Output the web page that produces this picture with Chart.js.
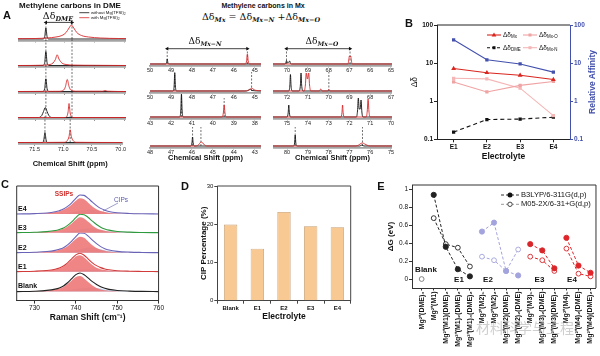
<!DOCTYPE html>
<html><head><meta charset="utf-8">
<script src="https://cdn.jsdelivr.net/npm/chart.js@4.4.0/dist/chart.umd.min.js"></script>
<style>
body{margin:0;background:#fff;width:600px;height:356px;position:relative;overflow:hidden;font-family:"Liberation Sans",Arial,sans-serif;}
.t{position:absolute;white-space:nowrap;color:#111;line-height:1;}
sub{font-size:68%;vertical-align:-0.3em;line-height:0;}
.m{font-family:"DejaVu Serif",serif;}
.m sub{font-style:italic;font-weight:bold;}
svg.o{position:absolute;left:0;top:0;}
</style></head><body>
<script>
// ---------------- DATA ----------------
// Panel A – DME methylene carbons (ppm, intensity) for 5 rows
const dmeTicks = [71.5, 71, 70.5, 70];
const dmeRefs = [71.32, 70.88];
const dmeWithout = [
 [[71.79,0],[71.37,0],[71.34,2.5],[71.32,11],[71.30,2.5],[71.27,0],[69.97,0]],
 [[71.79,0],[71.37,0],[71.34,3],[71.32,14],[71.30,3],[71.27,0],[69.97,0]],
 [[71.79,0],[71.37,0],[71.34,3],[71.32,12.7],[71.30,3],[71.27,0],[69.97,0]],
 [[71.79,0],[71.44,0],[71.39,2],[71.36,6],[71.33,10],[71.30,6],[71.27,2],[71.22,0],[69.97,0]],
 [[71.79,0],[71.36,0],[71.34,2.5],[71.32,10],[71.30,2.5],[71.28,0],[69.97,0]]
];
const dmeWith = [
 [[71.79,0.3],[71.5,0.5],[71.3,1],[71.15,2],[71.05,3.5],[70.98,6.5],[70.93,11],[70.89,14],[70.85,11],[70.8,6.5],[70.72,3.5],[70.6,2],[70.4,1],[70.1,0.5],[69.97,0.4]],
 [[71.79,0],[71.35,0.3],[71.25,1],[71.2,2.5],[71.16,6],[71.13,10.7],[71.1,6.5],[71.05,2.5],[70.98,1],[70.85,0.4],[70.5,0.2],[69.97,0]],
 [[71.79,0],[71.1,0.2],[71.02,1.5],[70.99,5],[70.96,12],[70.93,5],[70.9,1.5],[70.8,0.3],[70.36,0.3],[70.32,1],[70.28,0.3],[69.97,0]],
 [[71.79,0],[71.0,0],[70.96,2],[70.945,6],[70.93,14],[70.915,6],[70.9,2],[70.86,0],[69.97,0]],
 [[71.79,0],[70.98,0.2],[70.93,2],[70.9,6],[70.88,12.7],[70.86,6],[70.83,2],[70.78,0.2],[69.97,0]]
];
// Panel A – Mx-N rows
const mxnTicks = [[50,49,48,47,46,45],[50,49,48,47,46,45],[43,42,41,40,39,38],[48,47,46,45,44,43]];
const mxnRefs = [[49.18,45.35],[48.82,45.15],[41.5,39.46],[45.97,45.57]];
const mxnWithout = [
 [[50,0],[49.26,0],[49.21,1.5],[49.18,5],[49.15,1.5],[49.1,0],[44.7,0]],
 [[50,0],[48.9,0],[48.85,5],[48.82,18],[48.79,5],[48.74,0],[45.4,0],[45.28,1],[45.22,2],[45.14,0.5],[44.7,0]],
 [[43,0],[41.58,0],[41.53,7],[41.5,23],[41.47,7],[41.42,0],[37.7,0]],
 [[48,0],[46.05,0],[46.0,3],[45.97,9],[45.94,3],[45.89,0],[42.7,0]]
];
const mxnWith = [
 [[50,0],[45.44,0],[45.39,3],[45.35,10],[45.31,3],[45.26,0],[44.7,0]],
 [[50,0],[45.5,0],[45.3,0.8],[45.2,1.8],[45.15,3],[45.08,2],[44.95,0.6],[44.7,0.3]],
 [[43,0],[39.55,0],[39.5,4],[39.46,12],[39.42,4],[39.37,0],[37.7,0]],
 [[48,0],[45.8,0],[45.68,1.2],[45.6,3.5],[45.55,4],[45.48,3],[45.4,1],[45.3,0],[42.7,0]]
];
// Panel A – Mx-O rows
const mxoTicks = [[70,69,68,67,66,65],[72,71,70,69,68,67],[75,74,73,72,71,70],[80,79,78,77,76,75]];
const mxoRefs = [[70.03,66.97],[69.99],[],[79.61,76.37]];
const mxoWithout = [
 [[70.68,0],[70.1,0],[70.05,2],[70.03,3.5],[69.98,1],[69.92,2],[69.88,3],[69.84,0.5],[69.8,0],[64.95,0]],
 [[72.68,0],[71.92,0],[71.87,5],[71.84,16.5],[71.81,5],[71.76,0],[71.42,0],[71.36,6],[71.33,18],[71.3,6],[71.24,0],[66.95,0]],
 [[75.68,0],[75.0,0],[74.95,4],[74.92,12],[74.89,4],[74.84,0],[71.66,0],[71.61,6],[71.57,19],[71.53,8],[71.48,8],[71.44,17],[71.4,5],[71.35,0],[69.95,0]],
 [[80.68,0],[79.69,0],[79.64,3],[79.61,11],[79.58,3],[79.53,0],[76.5,0],[76.4,1],[76.3,0],[74.95,0]]
];
const mxoWith = [
 [[70.68,0],[67.07,0],[67.03,4],[67.0,8],[66.97,7],[66.94,8],[66.91,4],[66.87,0],[64.95,0]],
 [[72.68,0],[71.18,0],[71.12,6],[71.08,18],[71.02,12],[70.96,18],[70.92,6],[70.86,0],[70.45,0],[70.38,2],[70.31,0],[70.05,0],[69.99,1.5],[69.93,0],[66.95,0]],
 [[75.68,0],[72.41,0],[72.36,4],[72.33,12],[72.3,4],[72.25,0],[71.19,0],[71.14,6],[71.1,18],[71.06,6],[71.01,0],[69.95,0]],
 [[80.68,0],[76.7,0],[76.55,1],[76.45,2.5],[76.37,3],[76.28,2.2],[76.15,0.8],[76.0,0],[74.95,0]]
];
// Panel B
const bCats = ['E1','E2','E3','E4'];
const bTicks = [0.1, 1, 10, 100];
const bMx  = [7.2, 5.6, 4.8, 3.7];
const bMxO = [3.2, 1.75, 2.6, 3.3];
const bMxN = [4.0, 3.85, 2.2, 0.42];
const bDME = [0.155, 0.33, 0.34, 0.38];
const bAffinity = [41, 12.2, 9.5, 5.8];
// Panel C
const ramanTicks = [730, 740, 750, 760];
const ramanX = [725.7,730,733,735,736,737,738,739,740,741,742,743,744,745,746,747,748,750,753,756,760];
const ramanNames = ['Blank','E1','E2','E3','E4'];
const ramanTotal = [
 [0,0.4,1.2,2.5,3.7,5.7,8.9,12.9,17,18.6,16.8,13.5,10,7.2,4.9,3.3,2.2,1.1,0.5,0.2,0],
 [0,0.4,1.1,2.4,3.6,5.6,8.8,12.8,16.8,18.4,16.4,12.6,8.8,6,4,2.7,1.8,0.9,0.4,0.2,0],
 [0,0.4,1.1,2.3,3.4,5,7.8,11.5,16,19.6,19.4,16.5,12.5,9,6,4,2.7,1.3,0.5,0.2,0],
 [0,0.4,1,2.1,3.2,4.7,7.3,10.8,15,18.4,18,15.2,11.5,8.2,5.5,3.7,2.5,1.2,0.5,0.2,0],
 [0,0.4,1,2.2,3.3,4.9,7.6,11.2,15.6,19,18.6,15.6,11.8,8.4,5.6,3.8,2.5,1.2,0.5,0.2,0]
];
const ramanSSIP = [
 [0,0.3,0.9,2,3,4.7,7.5,11,14.5,15.5,13.2,9.5,6,3.6,2.2,1.4,0.9,0.4,0.2,0.1,0],
 [0,0.3,1,2.1,3.2,5,8,11.6,15.2,16.3,14.2,10.4,6.6,4,2.5,1.6,1,0.5,0.2,0.1,0],
 [0,0.3,0.9,1.9,2.8,4.2,6.5,9.8,13.6,16,14.8,11.2,7.4,4.6,2.8,1.8,1.1,0.5,0.2,0.1,0],
 [0,0.3,0.8,1.8,2.7,4,6.2,9.2,12.8,15.3,14.2,10.8,7.2,4.5,2.8,1.8,1.1,0.5,0.2,0.1,0],
 [0,0.3,0.8,1.9,2.8,4.2,6.5,9.6,13.3,15.8,14.7,11.2,7.5,4.7,2.9,1.9,1.1,0.5,0.2,0.1,0]
];
const ramanCIP = [
 [0,0.1,0.3,0.5,0.7,1,1.4,1.9,2.5,3.1,3.6,4,4.1,3.7,3,2.2,1.5,0.7,0.3,0.1,0],
 [0,0.1,0.1,0.3,0.4,0.6,0.8,1.2,1.6,2.1,2.2,2.2,2.2,2,1.5,1.1,0.8,0.4,0.2,0.1,0],
 [0,0.1,0.2,0.4,0.6,0.8,1.3,1.8,2.5,3.5,4.5,5.2,5.2,4.5,3.3,2.3,1.6,0.8,0.3,0.1,0],
 [0,0.1,0.2,0.3,0.5,0.7,1.1,1.6,2.2,3.1,3.8,4.4,4.3,3.7,2.7,1.9,1.4,0.7,0.3,0.1,0],
 [0,0.1,0.2,0.3,0.5,0.7,1.1,1.6,2.3,3.2,3.9,4.4,4.3,3.7,2.7,1.9,1.4,0.7,0.3,0.1,0]
];
// Panel D
const dCats = ['Blank','E1','E2','E3','E4'];
const dCIP = [19.9, 13.6, 23.2, 19.5, 19.2];
// Panel E
const eLabels = ['Mg²⁺(DME)₃','Mg²⁺(M1)','Mg²⁺(M1)(DME)₂','Mg²⁺(M1)₂(DME)₂','Mg²⁺(M1)₃(DME)₂',
 'Mg²⁺(M2)₁','Mg²⁺(M2)₂','Mg²⁺(M2)(DME)₂','Mg²⁺(M2)₂(DME)',
 'Mg²⁺(M3)₁','Mg²⁺(M3)₂(DME)','Mg²⁺(M3)(DME)₂',
 'Mg²⁺(M4)₁','Mg²⁺(M4)₂(DME)','Mg²⁺(M4)(DME)₂'];
const eB3LYP = [null,0.94,0.36,0.11,0.03,0.53,0.63,0.09,0.04,0.39,0.32,0.12,0.46,0.15,0.07];
const eM052X = [0,0.68,0.39,0.35,0.14,0.25,0.21,0.09,0.33,0.25,0.21,0.09,0.34,0.06,0.03];
const eGroups = [[0,0],[1,4],[5,8],[9,11],[12,14]];
const eYTicks = [0,0.2,0.4,0.6,0.8,1];

// ---------------- SETUP ----------------
const RED='#d9261f', BLUE='#4351ad';
Chart.defaults.font.family='"Liberation Sans", Arial, sans-serif';
Chart.defaults.color='#111';
Chart.defaults.plugins.legend.display=false;
Chart.defaults.plugins.tooltip.enabled=false;
const frame={id:'frame',defaults:{color:null},afterDraw(c,a,o){
  if(!o||!o.color)return;const {ctx,chartArea:r}=c;const s=o.sides||'trbl';
  ctx.save();ctx.strokeStyle=o.color;ctx.lineWidth=o.width||1;ctx.beginPath();
  if(s.includes('t')){ctx.moveTo(r.left,r.top);ctx.lineTo(r.right,r.top);}
  if(s.includes('r')){ctx.moveTo(r.right,r.top);ctx.lineTo(r.right,r.bottom);}
  if(s.includes('b')){ctx.moveTo(r.left,r.bottom);ctx.lineTo(r.right,r.bottom);}
  if(s.includes('l')){ctx.moveTo(r.left,r.top);ctx.lineTo(r.left,r.bottom);}
  ctx.stroke();ctx.restore();}};
Chart.register(frame);

function mk(left,top,w,h,cfg){
  const cv=document.createElement('canvas');
  cv.width=w;cv.height=h;
  cv.style.cssText=`position:absolute;left:${left}px;top:${top}px;width:${w}px;height:${h}px;`;
  document.body.appendChild(cv);
  cfg.options=Object.assign({responsive:false,maintainAspectRatio:false,animation:false,devicePixelRatio:1},cfg.options||{});
  return new Chart(cv.getContext('2d'),cfg);
}
function T(html,x,y,css,anchor){
  const d=document.createElement('div');d.className='t';d.innerHTML=html;
  d.style.cssText+=`left:${x}px;top:${y}px;`+(css||'');
  d.style.transform=anchor==='l'?'translate(0,-50%)':anchor==='r'?'translate(-100%,-50%)':'translate(-50%,-50%)';
  if(css&&css.includes('rot'))d.style.transform='translate(-50%,-50%) rotate(-90deg)';
  document.body.appendChild(d);return d;
}
const pts=a=>a.map(([x,y])=>({x,y}));

function nmrRow(o){
  const top=o.base-o.H-o.padTop;
  const h=Math.ceil(o.padTop+o.H+1.5+o.hx);
  const hx=h-o.padTop-o.H-1.5;
  const ds=[];
  (o.refs||[]).forEach(p=>ds.push({data:[{x:p,y:0},{x:p,y:o.refTop}],borderColor:'#333',borderWidth:0.7,borderDash:[2,1.5],pointRadius:0,order:5,clip:false}));
  ds.push({data:pts(o.black),borderColor:'#111',borderWidth:0.9,pointRadius:0,cubicInterpolationMode:'monotone',order:3,clip:false});
  ds.push({data:pts(o.red),borderColor:'#d8282a',borderWidth:0.9,pointRadius:0,cubicInterpolationMode:'monotone',order:2,clip:false});
  if(o.arrow)ds.push({data:[{x:o.arrow[0],y:o.refTop},{x:o.arrow[1],y:o.refTop}],borderColor:'#111',borderWidth:0.8,pointStyle:'triangle',pointRadius:2.2,pointRotation:[270,90],pointBackgroundColor:'#111',pointBorderWidth:0,order:1,clip:false});
  return mk(o.left,top,o.width,h,{type:'line',data:{datasets:ds},options:{
    layout:{autoPadding:false,padding:{top:o.padTop,left:0,right:0,bottom:0}},
    scales:{
      x:{type:'linear',reverse:true,min:o.xR,max:o.xL,
        border:{color:'#a3a3a3',width:1.8},
        grid:{drawOnChartArea:false,tickLength:2,color:'#666',tickWidth:0.7},
        ticks:{display:o.labels,font:{size:5.5},padding:0,maxRotation:0,autoSkip:false,color:'#222'},
        afterBuildTicks:s=>{s.ticks=o.ticks.map(v=>({value:v}));},
        afterFit:s=>{s.height=hx;},
        title:{display:!!o.title,text:o.title||'',font:{size:7.5,weight:'bold'},padding:0,color:'#111'}},
      y:{display:false,min:-1.5,max:o.H}
    }}});
}

// ---------------- PANEL A ----------------
const dmeBase=[39.3,65.5,91.5,117.3,142.7];
dmeBase.forEach((b,i)=>{
  const first=i===0,last=i===dmeBase.length-1;
  nmrRow({left:18,width:108,base:b,H:first?17:21.5,padTop:first?4:5,hx:last?23.3:3,
    xL:71.79,xR:69.97,ticks:dmeTicks,labels:last,title:last?'Chemical Shift (ppm)':null,
    black:dmeWithout[i],red:dmeWith[i],refs:dmeRefs,refTop:first?16.6:26.2,arrow:first?dmeRefs:null});
});
const mxBase=[63.5,90.5,117,146];
mxBase.forEach((b,i)=>{
  const first=i===0,last=i===3;
  const H=first?16:19;
  nmrRow({left:147,width:114,base:b,H:H,padTop:first?4:7,hx:last?14.3:8,
    xL:mxnTicks[i][0],xR:mxnTicks[i][5]-0.3,ticks:mxnTicks[i],labels:true,title:last?'Chemical Shift (ppm)':null,
    black:mxnWithout[i],red:mxnWith[i],refs:mxnRefs[i],refTop:first?15.3:H,arrow:first?mxnRefs[0]:null});
  nmrRow({left:273,width:121,base:b,H:H,padTop:first?4:7,hx:last?14.3:8,
    xL:mxoTicks[i][0]+0.68,xR:mxoTicks[i][5]-0.05,ticks:mxoTicks[i],labels:true,title:last?'Chemical Shift (ppm)':null,
    black:mxoWithout[i],red:mxoWith[i],refs:mxoRefs[i],refTop:first?15.3:H,arrow:first?mxoRefs[0]:null});
});

// ---------------- PANEL B ----------------
const bLineOpts=(c,extra)=>Object.assign({borderColor:c,backgroundColor:c,borderWidth:1.1,pointRadius:2.3,pointBorderWidth:0},extra);
mk(410,15,187,147,{type:'line',data:{labels:bCats,datasets:[
  bLineOpts(RED,{label:'ΔδMx',data:bMx,pointStyle:'triangle',pointRadius:2.8,yAxisID:'y'}),
  bLineOpts('#f0a3a3',{label:'ΔδMx-O',data:bMxO,pointStyle:'rect',yAxisID:'y'}),
  bLineOpts('#f5b6b6',{label:'ΔδMx-N',data:bMxN,pointStyle:'rect',yAxisID:'y'}),
  bLineOpts('#111',{label:'ΔδDME',data:bDME,pointStyle:'rect',borderDash:[4,3],yAxisID:'y'}),
  bLineOpts(BLUE,{label:'Relative Affinity',data:bAffinity,pointStyle:'rect',yAxisID:'y1'})
]},options:{
  layout:{autoPadding:false,padding:{top:10,left:0,right:0,bottom:0}},
  plugins:{frame:{color:'#222',sides:'t'}},
  scales:{
    x:{type:'category',offset:true,border:{color:'#222'},grid:{drawOnChartArea:false,tickLength:3,color:'#222'},
       ticks:{font:{size:6.5,weight:'bold'},padding:1},afterFit:s=>{s.height=22.7;},
       title:{display:true,text:'Electrolyte',font:{size:8.5,weight:'bold'},padding:0}},
    y:{type:'logarithmic',position:'left',min:0.1,max:100,border:{color:'#222'},
       grid:{drawOnChartArea:false,tickLength:3,color:'#222'},
       afterBuildTicks:s=>{s.ticks=bTicks.map(v=>({value:v}));},
       ticks:{callback:v=>String(v),font:{size:6.5,weight:'bold'},padding:1},
       afterFit:s=>{s.width=27;},
       title:{display:true,text:'Δδ',font:{size:8.5},padding:0}},
    y1:{type:'logarithmic',position:'right',min:0.1,max:100,border:{color:BLUE},
       grid:{drawOnChartArea:false,tickLength:3,color:BLUE},
       afterBuildTicks:s=>{s.ticks=bTicks.map(v=>({value:v}));},
       ticks:{callback:v=>String(v),font:{size:6.5,weight:'bold'},padding:1,color:BLUE},
       afterFit:s=>{s.width=27;}}
  }}});

// ---------------- PANEL C ----------------
const cOffsets=[9,29,48,68,86.7];
const cColors=['#222','#d23b3b','#6a64b8','#2e9a3e','#6a64b8'];
const cDs=[];
ramanNames.forEach((n,i)=>{
  const off=cOffsets[i];
  const mkD=arr=>arr.map((v,k)=>({x:ramanX[k],y:v+off}));
  cDs.push({label:n+' CIPs',data:mkD(ramanCIP[i]),fill:{value:off},backgroundColor:'rgba(178,208,238,0.9)',borderWidth:0,pointRadius:0,cubicInterpolationMode:'monotone',order:20-i*3});
  cDs.push({label:n+' SSIPs',data:mkD(ramanSSIP[i]),fill:{value:off},backgroundColor:'rgba(238,120,120,0.9)',borderWidth:0,pointRadius:0,cubicInterpolationMode:'monotone',order:19-i*3});
  cDs.push({label:n,data:mkD(ramanTotal[i]),borderColor:cColors[i],borderWidth:1.1,pointRadius:0,fill:false,cubicInterpolationMode:'monotone',order:18-i*3});
});
mk(10,180,155,143,{type:'line',data:{datasets:cDs},options:{
  layout:{autoPadding:false,padding:{top:6,left:6.7,right:2.7,bottom:0}},
  plugins:{frame:{color:'#333',sides:'trl'}},
  scales:{
    x:{type:'linear',min:725.7,max:760,border:{color:'#333'},grid:{drawOnChartArea:false,tickLength:3,color:'#333'},
       afterBuildTicks:s=>{s.ticks=ramanTicks.map(v=>({value:v}));},
       ticks:{font:{size:6.5},padding:1,maxRotation:0},afterFit:s=>{s.height=22.4;},
       title:{display:true,text:'Raman Shift (cm⁻¹)',font:{size:8.5,weight:'bold'},padding:0}},
    y:{display:false,min:0,max:114.7}
  }}});

// ---------------- PANEL D ----------------
mk(199,180,155,142,{type:'bar',data:{labels:dCats,datasets:[{label:'CIP Percentage',data:dCIP,backgroundColor:'#f9c994',borderColor:'#c39d72',borderWidth:0.8,barPercentage:0.5,categoryPercentage:1}]},options:{
  layout:{autoPadding:false,padding:{top:6,left:0,right:3.3,bottom:0}},
  plugins:{frame:{color:'#444',sides:'tr'}},
  scales:{
    x:{border:{color:'#444'},grid:{drawOnChartArea:false,tickLength:3,color:'#444'},ticks:{font:{size:6,weight:'bold'},padding:1},
       afterFit:s=>{s.height=21.3;},title:{display:true,text:'Electrolyte',font:{size:8.5,weight:'bold'},padding:0}},
    y:{min:0,max:30,border:{color:'#444'},grid:{drawOnChartArea:false,tickLength:3,color:'#444'},ticks:{stepSize:10,font:{size:6},padding:1},
       afterFit:s=>{s.width=18.3;},title:{display:true,text:'CIP Percentage (%)',font:{size:8,weight:'bold'},padding:0}}
  }}});

// ---------------- PANEL E ----------------
const eColors=['#777','#222','#a3a3dd','#d8262a','#e0262a'];
const eDs=[];
eGroups.forEach(([a,b],g)=>{
  const c=eColors[g];
  const fp=[],op=[];
  for(let k=a;k<=b;k++){ if(eB3LYP[k]!==null)fp.push({x:k,y:eB3LYP[k]}); if(eM052X[k]!==null)op.push({x:k,y:eM052X[k]}); }
  if(fp.length)eDs.push({label:'B3LYP/6-311G(d,p)',data:fp,borderColor:c,backgroundColor:c,pointBackgroundColor:c,borderDash:[3,2],borderWidth:1,pointRadius:2.6,pointBorderWidth:0.9,pointBorderColor:c});
  eDs.push({label:'M05-2X/6-31+G(d,p)',data:op,borderColor:c,backgroundColor:'#fff',pointBackgroundColor:'#fff',borderDash:[3,2],borderWidth:1,pointRadius:2.4,pointBorderWidth:0.9,pointBorderColor:c});
});
mk(386,180,214,176,{type:'line',data:{datasets:eDs},options:{
  layout:{autoPadding:false,padding:{top:5,left:0,right:2,bottom:0}},
  plugins:{frame:{color:'#333',sides:'tr'}},
  scales:{
    x:{type:'linear',min:-0.8,max:14.45,border:{color:'#333'},grid:{drawOnChartArea:false,tickLength:2.5,color:'#333'},
       afterBuildTicks:s=>{s.ticks=eLabels.map((l,k)=>({value:k}));},
       ticks:{callback:v=>eLabels[v]??'',font:{size:7,weight:'bold'},padding:1,minRotation:90,maxRotation:90,autoSkip:false},
       afterFit:s=>{s.height=68;}},
    y:{min:-0.1,max:1.05,border:{color:'#333'},grid:{drawOnChartArea:false,tickLength:3,color:'#333'},
       afterBuildTicks:s=>{s.ticks=eYTicks.map(v=>({value:v}));},
       ticks:{callback:v=>String(v),font:{size:6.5},padding:1},
       afterFit:s=>{s.width=26;},title:{display:true,text:'ΔG (eV)',font:{size:8,weight:'bold'},padding:0}}
  }}});

// ---------------- TEXT & LEGENDS ----------------
const B='font-weight:bold;';
T('A',7,15,B+'font-size:11px;');
T('Methylene carbons in DME',70,5.5,B+'font-size:8px;');
T('<span class="m" style="font-size:9.5px">Δδ<sub>DME</sub></span>',58,14,'');
T('without Mg(TFSI)<sub>2</sub>',91,12.7,'font-size:4.3px;','l');
T('with Mg(TFSI)<sub>2</sub>',91,17.7,'font-size:4.3px;','l');
T('Methylene carbons in Mx',263,4.8,B+'font-size:7px;');
T('<span class="m" style="font-size:9.5px">Δδ<sub>Mx</sub> = Δδ<sub>Mx−N</sub> +Δδ<sub>Mx−O</sub></span>',261,15,'');
T('<span class="m" style="font-size:9px">Δδ<sub>Mx−N</sub></span>',205,38.5,'');
T('<span class="m" style="font-size:9px">Δδ<sub>Mx−O</sub></span>',322,38.5,'');
T('B',409,23,B+'font-size:11px;');
T('Relative Affinity',592,82,B+'font-size:8.5px;color:'+BLUE+';rot');
T('Δδ<sub>Mx</sub>',503,35,'font-size:6.5px;','l');
T('Δδ<sub>Mx-O</sub>',539,35,'font-size:6.5px;','l');
T('Δδ<sub>DME</sub>',503,47.7,'font-size:6.5px;','l');
T('Δδ<sub>Mx-N</sub>',539,47.7,'font-size:6.5px;','l');
T('C',5,184,B+'font-size:11px;');
T('SSIPs',64,194,B+'font-size:6.5px;color:#d0302c;');
T('CIPs',121,199.5,'font-size:6.5px;color:#5b5bb0;');
[['E4',208],['E3',227],['E2',246.5],['E1',265.5],['Blank',285]].forEach(([s,y])=>T(s,18,y,B+'font-size:7px;','l'));
T('D',185,186,B+'font-size:11px;');
T('E',381,186,B+'font-size:11px;');
T('Blank',426,269.5,B+'font-size:8px;');
T('E1',459,280,B+'font-size:8px;');
T('E2',488,280,B+'font-size:8px;');
T('E3',539.5,280,B+'font-size:8px;');
T('E4',572,280,B+'font-size:8px;');
T('B3LYP/6-311G(d,p)',521,195,'font-size:7.6px;','l');
T('M05-2X/6-31+G(d,p)',521,204.3,'font-size:7.6px;','l');
T('材料科学与工程',525,327,'font-family:"Noto Sans CJK SC";font-size:14px;color:rgba(160,160,160,0.5);');

// legend symbols overlay
const svg=`<svg class="o" width="600" height="356" xmlns="http://www.w3.org/2000/svg">
<line x1="79.3" y1="12.7" x2="89.3" y2="12.7" stroke="#111" stroke-width="0.8"/>
<line x1="79.3" y1="17.7" x2="89.3" y2="17.7" stroke="#d8282a" stroke-width="0.8"/>
<line x1="487" y1="35" x2="501" y2="35" stroke="${RED}" stroke-width="1.1"/>
<polygon points="494,32.6 496.4,36.6 491.6,36.6" fill="${RED}"/>
<line x1="523" y1="35" x2="537" y2="35" stroke="#f0a3a3" stroke-width="1.1"/>
<rect x="528.5" y="33.5" width="3" height="3" fill="#f0a3a3"/>
<line x1="487" y1="47.7" x2="501" y2="47.7" stroke="#111" stroke-width="1.1" stroke-dasharray="3,2"/>
<rect x="492.5" y="46.2" width="3" height="3" fill="#111"/>
<line x1="523" y1="47.7" x2="537" y2="47.7" stroke="#f5b6b6" stroke-width="1.1"/>
<rect x="528.5" y="46.2" width="3" height="3" fill="#f5b6b6"/>
<line x1="501" y1="195" x2="519" y2="195" stroke="#333" stroke-width="1" stroke-dasharray="3,2"/>
<circle cx="510" cy="195" r="2.5" fill="#111"/>
<line x1="501" y1="204.3" x2="519" y2="204.3" stroke="#999" stroke-width="1" stroke-dasharray="3,2"/>
<circle cx="510" cy="204.3" r="2.2" fill="#fff" stroke="#333" stroke-width="0.9"/>
<line x1="118" y1="203" x2="103" y2="211" stroke="#5b5bb0" stroke-width="0.6"/>
</svg>`;
document.body.insertAdjacentHTML('beforeend',svg);
</script>
</body></html>
